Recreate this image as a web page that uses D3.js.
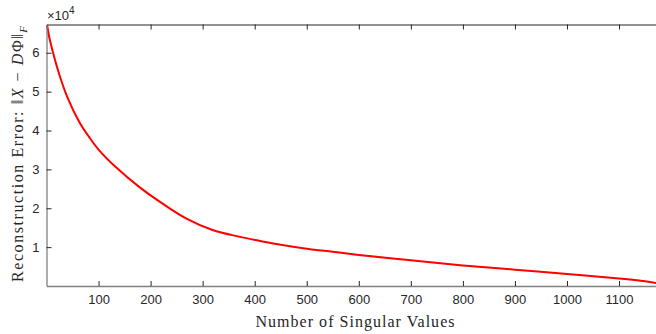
<!DOCTYPE html>
<html>
<head>
<meta charset="utf-8">
<script src="https://cdn.jsdelivr.net/npm/d3@7"></script>
<style>
  html, body { margin: 0; padding: 0; background: #fff; }
  svg { display: block; }
</style>
</head>
<body>
<svg id="chart" width="656" height="334"></svg>
<script>
// Number of retained singular values
const numSingular = [1, 5, 12, 25, 40, 63, 82, 100, 133, 178, 223, 268, 319, 370, 418, 450, 500, 550, 600, 700, 800, 900, 1000, 1100, 1150, 1171];
// Reconstruction error ||X - DΦ||_F, in units of 10^4
const reconError = [6.72, 6.42, 6.03, 5.42, 4.86, 4.22, 3.83, 3.51, 3.06, 2.55, 2.12, 1.74, 1.44, 1.27, 1.14, 1.06, 0.96, 0.88, 0.80, 0.66, 0.53, 0.42, 0.31, 0.19, 0.12, 0.08];
// Tick values
const xTicks = [100, 200, 300, 400, 500, 600, 700, 800, 900, 1000, 1100];
const yTicks = [1, 2, 3, 4, 5, 6];

const data = numSingular.map((n, i) => ({ n, e: reconError[i] }));

const svg = d3.select("#chart");
const plotLeft = 46.5, plotRight = 656, plotTop = 24.5, plotBottom = 286;

const x = d3.scaleLinear().domain([0, 1171]).range([plotLeft, plotRight]);
const y = d3.scaleLinear().domain([0, 6.727]).range([plotBottom, plotTop]);

const tickFont = "'Liberation Sans', Arial, Helvetica, sans-serif";
const serif = "'Liberation Serif', 'DejaVu Serif', serif";
const axisColor = "#262626";

// Data line
const line = d3.line().x(d => x(d.n)).y(d => y(d.e)).curve(d3.curveCatmullRom.alpha(0.5));
svg.append("path")
  .datum(data)
  .attr("d", line)
  .attr("fill", "none")
  .attr("stroke", "#ff0000")
  .attr("stroke-width", 2);

// Bottom axis (ticks pointing inward)
const xAxis = svg.append("g")
  .attr("transform", `translate(0,${plotBottom})`)
  .call(d3.axisBottom(x).tickValues(xTicks).tickFormat(d3.format("d"))
    .tickSize(-5).tickPadding(9).tickSizeOuter(0));
xAxis.select(".domain").attr("stroke", "#808080").attr("stroke-width", 1.3);
xAxis.selectAll(".tick line").attr("stroke", axisColor);
xAxis.selectAll("text").attr("font-family", tickFont).attr("font-size", 13).attr("fill", axisColor);

// Top axis: box edge with mirrored ticks
const xTop = svg.append("g")
  .attr("transform", `translate(0,${plotTop})`)
  .call(d3.axisTop(x).tickValues(xTicks).tickSize(-5).tickFormat("").tickSizeOuter(0));
xTop.select(".domain").attr("stroke", axisColor).attr("stroke-width", 1);
xTop.selectAll(".tick line").attr("stroke", axisColor);

// Left axis
const yAxis = svg.append("g")
  .attr("transform", `translate(${plotLeft},0)`)
  .call(d3.axisLeft(y).tickValues(yTicks).tickFormat(d3.format("d"))
    .tickSize(-5).tickPadding(7).tickSizeOuter(0));
yAxis.select(".domain").attr("stroke", "#808080").attr("stroke-width", 1.3);
yAxis.selectAll(".tick line").attr("stroke", axisColor);
yAxis.selectAll("text").attr("font-family", tickFont).attr("font-size", 13).attr("fill", axisColor);

// Exponent label above the y axis
const expo = svg.append("text")
  .attr("x", 47)
  .attr("y", 20)
  .attr("font-family", tickFont)
  .attr("font-size", 13)
  .attr("fill", axisColor);
expo.append("tspan").text("\u00d710");
expo.append("tspan").attr("dy", -6).attr("font-size", 10).text("4");

// X axis title
svg.append("text")
  .attr("x", 355)
  .attr("y", 327)
  .attr("text-anchor", "middle")
  .attr("font-family", serif)
  .attr("font-size", 16)
  .attr("textLength", 199)
  .attr("lengthAdjust", "spacing")
  .attr("fill", axisColor)
  .text("Number of Singular Values");

// Y axis title
const yt = svg.append("text")
  .attr("transform", "translate(23,154) rotate(-90)")
  .attr("text-anchor", "middle")
  .attr("font-family", serif)
  .attr("font-size", 16)
  .attr("textLength", 256)
  .attr("lengthAdjust", "spacing")
  .attr("fill", axisColor);
yt.append("tspan").text("Reconstruction Error:  \u2016");
yt.append("tspan").attr("font-style", "italic").text("X");
yt.append("tspan").text(" \u2212 ");
yt.append("tspan").attr("font-style", "italic").text("D");
yt.append("tspan").text("\u03a6\u2016");
yt.append("tspan").attr("font-style", "italic").attr("font-size", 11).attr("dy", 4).text("F");
</script>
</body>
</html>
